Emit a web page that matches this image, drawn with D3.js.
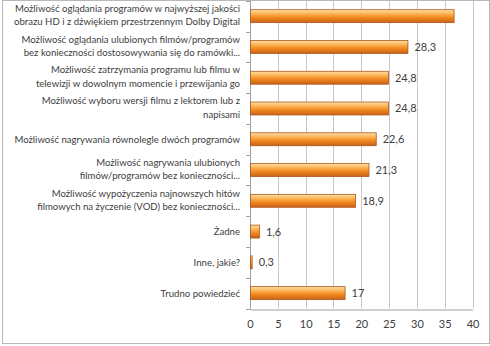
<!DOCTYPE html>
<html><head><meta charset="utf-8">
<script src="https://cdn.jsdelivr.net/npm/d3@7"></script>
<style>body{margin:0;background:#fff}svg{display:block}text{font-family:Lato,"Open Sans",sans-serif}</style>
</head><body>
<svg id="c" width="490" height="346"></svg>
<script>
const categories = [
  ["Możliwość oglądania programów w najwyższej jakości","obrazu HD i z dźwiękiem przestrzennym  Dolby Digital"],
  ["Możliwość oglądania ulubionych filmów/programów","bez konieczności dostosowywania się do ramówki..."],
  ["Możliwość zatrzymania programu lub filmu w","telewizji w dowolnym momencie i przewijania go"],
  ["Możliwość wyboru wersji filmu z lektorem lub z","napisami"],
  ["Możliwość nagrywania równolegle dwóch programów"],
  ["Możliwość nagrywania ulubionych","filmów/programów bez konieczności..."],
  ["Możliwość wypożyczenia najnowszych hitów","filmowych na życzenie (VOD) bez konieczności..."],
  ["Żadne"],
  ["Inne, jakie?"],
  ["Trudno powiedzieć"]
];
const values = [36.6, 28.3, 24.8, 24.8, 22.6, 21.3, 18.9, 1.6, 0.3, 17];
const valueLabels = [null, "28,3", "24,8", "24,8", "22,6", "21,3", "18,9", "1,6", "0,3", "17"];
const ticks = [0,5,10,15,20,25,30,35,40];

const svg = d3.select("#c");
const pLeft = 250, pRight = 472.5, pTop = 0.8, pBottom = 308.5;

svg.append("rect").attr("x",2.5).attr("y",0.5).attr("width",487).attr("height",343)
  .attr("fill","#fff").attr("stroke","#b8b8b8");

const x = d3.scaleLinear().domain([0,40]).range([pLeft,pRight]);
const y = d3.scaleBand().domain(d3.range(categories.length)).range([pTop,pBottom]).paddingInner(0.58).paddingOuter(0.29);

const defs = svg.append("defs");
const g = defs.append("linearGradient").attr("id","bg").attr("x1",0).attr("y1",0).attr("x2",0).attr("y2",1);
g.append("stop").attr("offset","0%").attr("stop-color","#fde3a8");
g.append("stop").attr("offset","30%").attr("stop-color","#fbb65a");
g.append("stop").attr("offset","60%").attr("stop-color","#f28a1e");
g.append("stop").attr("offset","100%").attr("stop-color","#c8611a");

// gridlines
svg.append("g").selectAll("line").data(ticks.slice(1)).join("line")
  .attr("x1",d=>Math.round(x(d))+0.5).attr("x2",d=>Math.round(x(d))+0.5)
  .attr("y1",pTop).attr("y2",pBottom).attr("stroke","#c8c8c8").attr("stroke-width",1);

// x axis
const xa = svg.append("g").attr("transform",`translate(0,${Math.round(pBottom)+0.5})`)
  .call(d3.axisBottom(x).tickValues(ticks).tickSize(0).tickPadding(11));
xa.select(".domain").attr("stroke","#a0a0a0");
xa.selectAll("text").attr("font-size",11).attr("fill","#404040").attr("font-family","Lato,'Open Sans',sans-serif");

// y axis line & ticks at band boundaries
const bounds = d3.range(categories.length+1).map(i => pTop + (pBottom-pTop)*i/categories.length);
svg.append("line").attr("x1",pLeft+0.5).attr("x2",pLeft+0.5).attr("y1",pTop).attr("y2",pBottom+0.5).attr("stroke","#a0a0a0");
svg.append("g").selectAll("line").data(bounds).join("line")
  .attr("x1",pLeft-4).attr("x2",pLeft+0.5).attr("y1",d=>Math.round(d)+0.5).attr("y2",d=>Math.round(d)+0.5)
  .attr("stroke","#a0a0a0");

const rows = values.map((v,i)=>({v, i, label: valueLabels[i], cat: categories[i]}));

// bars
svg.append("g").selectAll("rect").data(rows).join("rect")
  .attr("x",x(0)+0.5).attr("y",d=>y(d.i)).attr("width",d=>Math.max(1,x(d.v)-x(0)))
  .attr("height",y.bandwidth()).attr("fill","url(#bg)").attr("stroke","#b0561a").attr("stroke-width",0.8);

// value labels
svg.append("g").selectAll("text").data(rows.filter(d=>d.label!==null)).join("text")
  .attr("x",d=>x(d.v)+7).attr("y",d=>y(d.i)+y.bandwidth()/2+4)
  .attr("font-size",11).attr("fill","#404040")
  .text(d=>d.label);

// category labels
const cl = svg.append("g").selectAll("text").data(rows).join("text")
  .attr("text-anchor","end").attr("font-size",9.6).attr("fill","#404040");
cl.each(function(d){
  const t = d3.select(this);
  const lines = d.cat;
  const cy = y(d.i)+y.bandwidth()/2;
  const lh = 13.5;
  const y0 = cy - (lines.length-1)*lh/2 + 3.5 - (lines.length>1?1:0);
  lines.forEach((s,k)=>t.append("tspan").attr("x",240).attr("y",y0+k*lh).text(s));
});
</script>
</body></html>
